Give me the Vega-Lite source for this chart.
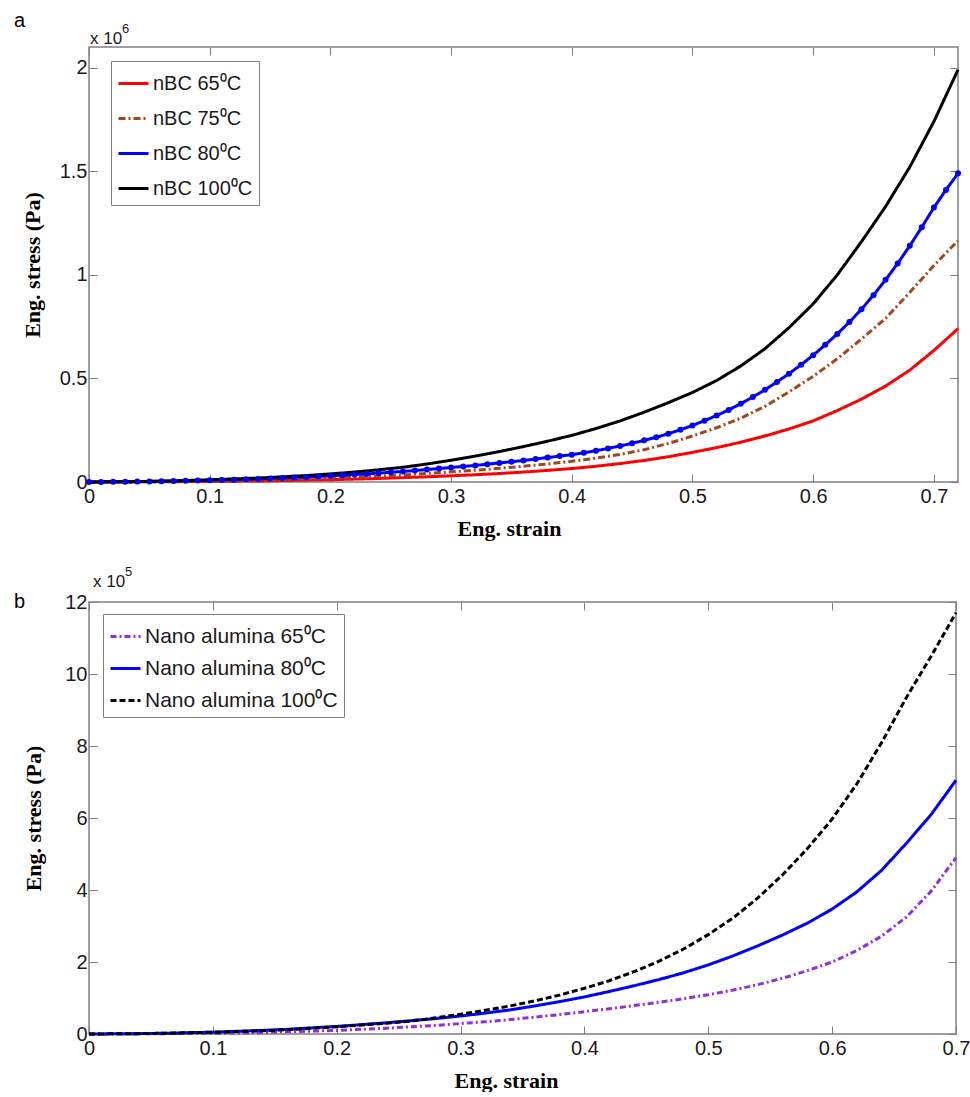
{
"$schema": "https://vega.github.io/schema/vega-lite/v6.json",
"background": "white",
"padding": {"left": 13, "top": 10, "right": 5, "bottom": 0},
"bounds": "flush",
"spacing": 120,
"resolve": {"scale": {"x": "independent", "y": "independent", "color": "independent", "strokeDash": "independent"}, "legend": {"color": "independent", "strokeDash": "independent"}},
"config": {
  "view": {"stroke": "#808080", "strokeWidth": 1.5},
  "font": "Liberation Sans",
  "axis": {"grid": false, "domain": false, "minExtent": 0, "tickColor": "#808080", "tickSize": -8, "tickWidth": 1, "labelFont": "Liberation Sans", "labelFontSize": 20, "labelColor": "#1a1a1a", "labelOverlap": false, "labelBound": false, "labelFlush": false, "titleFont": "Liberation Serif", "titleFontSize": 22, "titleFontWeight": "bold", "titleColor": "#000000"},
  "legend": {"labelFont": "Liberation Sans", "labelColor": "#1a1a1a", "labelLimit": 400, "strokeColor": "#808080", "fillColor": "white", "symbolType": "stroke", "symbolSize": 900, "symbolStrokeWidth": 3, "labelOffset": 3, "padding": 6, "rowPadding": 8}
},
"datasets": {
"a": [
{"series":"nBC 65⁰C","strain":0,"stress":0},{"series":"nBC 65⁰C","strain":0.02,"stress":0.0003},{"series":"nBC 65⁰C","strain":0.04,"stress":0.0006},{"series":"nBC 65⁰C","strain":0.06,"stress":0.001},{"series":"nBC 65⁰C","strain":0.08,"stress":0.002},{"series":"nBC 65⁰C","strain":0.1,"stress":0.003},{"series":"nBC 65⁰C","strain":0.12,"stress":0.004},{"series":"nBC 65⁰C","strain":0.14,"stress":0.005},{"series":"nBC 65⁰C","strain":0.16,"stress":0.007},{"series":"nBC 65⁰C","strain":0.18,"stress":0.009},{"series":"nBC 65⁰C","strain":0.2,"stress":0.011},{"series":"nBC 65⁰C","strain":0.22,"stress":0.014},{"series":"nBC 65⁰C","strain":0.24,"stress":0.017},{"series":"nBC 65⁰C","strain":0.26,"stress":0.021},{"series":"nBC 65⁰C","strain":0.28,"stress":0.025},{"series":"nBC 65⁰C","strain":0.3,"stress":0.03},{"series":"nBC 65⁰C","strain":0.32,"stress":0.035},{"series":"nBC 65⁰C","strain":0.34,"stress":0.041},{"series":"nBC 65⁰C","strain":0.36,"stress":0.048},{"series":"nBC 65⁰C","strain":0.38,"stress":0.056},{"series":"nBC 65⁰C","strain":0.4,"stress":0.065},{"series":"nBC 65⁰C","strain":0.42,"stress":0.076},{"series":"nBC 65⁰C","strain":0.44,"stress":0.089},{"series":"nBC 65⁰C","strain":0.46,"stress":0.104},{"series":"nBC 65⁰C","strain":0.48,"stress":0.122},{"series":"nBC 65⁰C","strain":0.5,"stress":0.143},{"series":"nBC 65⁰C","strain":0.52,"stress":0.166},{"series":"nBC 65⁰C","strain":0.54,"stress":0.192},{"series":"nBC 65⁰C","strain":0.56,"stress":0.222},{"series":"nBC 65⁰C","strain":0.58,"stress":0.256},{"series":"nBC 65⁰C","strain":0.6,"stress":0.295},{"series":"nBC 65⁰C","strain":0.62,"stress":0.345},{"series":"nBC 65⁰C","strain":0.64,"stress":0.4},{"series":"nBC 65⁰C","strain":0.66,"stress":0.463},{"series":"nBC 65⁰C","strain":0.68,"stress":0.54},{"series":"nBC 65⁰C","strain":0.7,"stress":0.635},{"series":"nBC 65⁰C","strain":0.72,"stress":0.74},
{"series":"nBC 75⁰C","strain":0,"stress":0},{"series":"nBC 75⁰C","strain":0.02,"stress":0.0005},{"series":"nBC 75⁰C","strain":0.04,"stress":0.001},{"series":"nBC 75⁰C","strain":0.06,"stress":0.002},{"series":"nBC 75⁰C","strain":0.08,"stress":0.003},{"series":"nBC 75⁰C","strain":0.1,"stress":0.005},{"series":"nBC 75⁰C","strain":0.12,"stress":0.007},{"series":"nBC 75⁰C","strain":0.14,"stress":0.009},{"series":"nBC 75⁰C","strain":0.16,"stress":0.012},{"series":"nBC 75⁰C","strain":0.18,"stress":0.015},{"series":"nBC 75⁰C","strain":0.2,"stress":0.019},{"series":"nBC 75⁰C","strain":0.22,"stress":0.023},{"series":"nBC 75⁰C","strain":0.24,"stress":0.028},{"series":"nBC 75⁰C","strain":0.26,"stress":0.034},{"series":"nBC 75⁰C","strain":0.28,"stress":0.041},{"series":"nBC 75⁰C","strain":0.3,"stress":0.049},{"series":"nBC 75⁰C","strain":0.32,"stress":0.057},{"series":"nBC 75⁰C","strain":0.34,"stress":0.066},{"series":"nBC 75⁰C","strain":0.36,"stress":0.076},{"series":"nBC 75⁰C","strain":0.38,"stress":0.087},{"series":"nBC 75⁰C","strain":0.4,"stress":0.1},{"series":"nBC 75⁰C","strain":0.42,"stress":0.115},{"series":"nBC 75⁰C","strain":0.44,"stress":0.133},{"series":"nBC 75⁰C","strain":0.46,"stress":0.156},{"series":"nBC 75⁰C","strain":0.48,"stress":0.186},{"series":"nBC 75⁰C","strain":0.5,"stress":0.222},{"series":"nBC 75⁰C","strain":0.52,"stress":0.262},{"series":"nBC 75⁰C","strain":0.54,"stress":0.308},{"series":"nBC 75⁰C","strain":0.56,"stress":0.365},{"series":"nBC 75⁰C","strain":0.58,"stress":0.435},{"series":"nBC 75⁰C","strain":0.6,"stress":0.51},{"series":"nBC 75⁰C","strain":0.62,"stress":0.595},{"series":"nBC 75⁰C","strain":0.64,"stress":0.69},{"series":"nBC 75⁰C","strain":0.66,"stress":0.79},{"series":"nBC 75⁰C","strain":0.68,"stress":0.915},{"series":"nBC 75⁰C","strain":0.7,"stress":1.045},{"series":"nBC 75⁰C","strain":0.72,"stress":1.165},
{"series":"nBC 80⁰C","strain":0,"stress":0},{"series":"nBC 80⁰C","strain":0.01,"stress":0.0005},{"series":"nBC 80⁰C","strain":0.02,"stress":0.001},{"series":"nBC 80⁰C","strain":0.03,"stress":0.0015},{"series":"nBC 80⁰C","strain":0.04,"stress":0.002},{"series":"nBC 80⁰C","strain":0.05,"stress":0.003},{"series":"nBC 80⁰C","strain":0.06,"stress":0.004},{"series":"nBC 80⁰C","strain":0.07,"stress":0.005},{"series":"nBC 80⁰C","strain":0.08,"stress":0.006},{"series":"nBC 80⁰C","strain":0.09,"stress":0.007},{"series":"nBC 80⁰C","strain":0.1,"stress":0.008},{"series":"nBC 80⁰C","strain":0.11,"stress":0.01},{"series":"nBC 80⁰C","strain":0.12,"stress":0.011},{"series":"nBC 80⁰C","strain":0.13,"stress":0.013},{"series":"nBC 80⁰C","strain":0.14,"stress":0.015},{"series":"nBC 80⁰C","strain":0.15,"stress":0.017},{"series":"nBC 80⁰C","strain":0.16,"stress":0.019},{"series":"nBC 80⁰C","strain":0.17,"stress":0.022},{"series":"nBC 80⁰C","strain":0.18,"stress":0.024},{"series":"nBC 80⁰C","strain":0.19,"stress":0.027},{"series":"nBC 80⁰C","strain":0.2,"stress":0.03},{"series":"nBC 80⁰C","strain":0.21,"stress":0.033},{"series":"nBC 80⁰C","strain":0.22,"stress":0.036},{"series":"nBC 80⁰C","strain":0.23,"stress":0.039},{"series":"nBC 80⁰C","strain":0.24,"stress":0.043},{"series":"nBC 80⁰C","strain":0.25,"stress":0.047},{"series":"nBC 80⁰C","strain":0.26,"stress":0.051},{"series":"nBC 80⁰C","strain":0.27,"stress":0.055},{"series":"nBC 80⁰C","strain":0.28,"stress":0.06},{"series":"nBC 80⁰C","strain":0.29,"stress":0.065},{"series":"nBC 80⁰C","strain":0.3,"stress":0.07},{"series":"nBC 80⁰C","strain":0.31,"stress":0.075},{"series":"nBC 80⁰C","strain":0.32,"stress":0.08},{"series":"nBC 80⁰C","strain":0.33,"stress":0.086},{"series":"nBC 80⁰C","strain":0.34,"stress":0.092},{"series":"nBC 80⁰C","strain":0.35,"stress":0.098},{"series":"nBC 80⁰C","strain":0.36,"stress":0.104},{"series":"nBC 80⁰C","strain":0.37,"stress":0.111},{"series":"nBC 80⁰C","strain":0.38,"stress":0.118},{"series":"nBC 80⁰C","strain":0.39,"stress":0.125},{"series":"nBC 80⁰C","strain":0.4,"stress":0.132},{"series":"nBC 80⁰C","strain":0.41,"stress":0.141},{"series":"nBC 80⁰C","strain":0.42,"stress":0.151},{"series":"nBC 80⁰C","strain":0.43,"stress":0.162},{"series":"nBC 80⁰C","strain":0.44,"stress":0.174},{"series":"nBC 80⁰C","strain":0.45,"stress":0.187},{"series":"nBC 80⁰C","strain":0.46,"stress":0.201},{"series":"nBC 80⁰C","strain":0.47,"stress":0.216},{"series":"nBC 80⁰C","strain":0.48,"stress":0.233},{"series":"nBC 80⁰C","strain":0.49,"stress":0.252},{"series":"nBC 80⁰C","strain":0.5,"stress":0.273},{"series":"nBC 80⁰C","strain":0.51,"stress":0.296},{"series":"nBC 80⁰C","strain":0.52,"stress":0.321},{"series":"nBC 80⁰C","strain":0.53,"stress":0.348},{"series":"nBC 80⁰C","strain":0.54,"stress":0.378},{"series":"nBC 80⁰C","strain":0.55,"stress":0.41},{"series":"nBC 80⁰C","strain":0.56,"stress":0.445},{"series":"nBC 80⁰C","strain":0.57,"stress":0.483},{"series":"nBC 80⁰C","strain":0.58,"stress":0.523},{"series":"nBC 80⁰C","strain":0.59,"stress":0.566},{"series":"nBC 80⁰C","strain":0.6,"stress":0.612},{"series":"nBC 80⁰C","strain":0.61,"stress":0.662},{"series":"nBC 80⁰C","strain":0.62,"stress":0.715},{"series":"nBC 80⁰C","strain":0.63,"stress":0.772},{"series":"nBC 80⁰C","strain":0.64,"stress":0.834},{"series":"nBC 80⁰C","strain":0.65,"stress":0.902},{"series":"nBC 80⁰C","strain":0.66,"stress":0.976},{"series":"nBC 80⁰C","strain":0.67,"stress":1.055},{"series":"nBC 80⁰C","strain":0.68,"stress":1.14},{"series":"nBC 80⁰C","strain":0.69,"stress":1.23},{"series":"nBC 80⁰C","strain":0.7,"stress":1.325},{"series":"nBC 80⁰C","strain":0.71,"stress":1.41},{"series":"nBC 80⁰C","strain":0.72,"stress":1.49},
{"series":"nBC 100⁰C","strain":0,"stress":0},{"series":"nBC 100⁰C","strain":0.02,"stress":0.001},{"series":"nBC 100⁰C","strain":0.04,"stress":0.002},{"series":"nBC 100⁰C","strain":0.06,"stress":0.004},{"series":"nBC 100⁰C","strain":0.08,"stress":0.007},{"series":"nBC 100⁰C","strain":0.1,"stress":0.011},{"series":"nBC 100⁰C","strain":0.12,"stress":0.015},{"series":"nBC 100⁰C","strain":0.14,"stress":0.019},{"series":"nBC 100⁰C","strain":0.16,"stress":0.025},{"series":"nBC 100⁰C","strain":0.18,"stress":0.031},{"series":"nBC 100⁰C","strain":0.2,"stress":0.039},{"series":"nBC 100⁰C","strain":0.22,"stress":0.048},{"series":"nBC 100⁰C","strain":0.24,"stress":0.059},{"series":"nBC 100⁰C","strain":0.26,"stress":0.071},{"series":"nBC 100⁰C","strain":0.28,"stress":0.087},{"series":"nBC 100⁰C","strain":0.3,"stress":0.105},{"series":"nBC 100⁰C","strain":0.32,"stress":0.125},{"series":"nBC 100⁰C","strain":0.34,"stress":0.147},{"series":"nBC 100⁰C","strain":0.36,"stress":0.171},{"series":"nBC 100⁰C","strain":0.38,"stress":0.197},{"series":"nBC 100⁰C","strain":0.4,"stress":0.225},{"series":"nBC 100⁰C","strain":0.42,"stress":0.258},{"series":"nBC 100⁰C","strain":0.44,"stress":0.295},{"series":"nBC 100⁰C","strain":0.46,"stress":0.337},{"series":"nBC 100⁰C","strain":0.48,"stress":0.383},{"series":"nBC 100⁰C","strain":0.5,"stress":0.432},{"series":"nBC 100⁰C","strain":0.52,"stress":0.49},{"series":"nBC 100⁰C","strain":0.54,"stress":0.56},{"series":"nBC 100⁰C","strain":0.56,"stress":0.643},{"series":"nBC 100⁰C","strain":0.58,"stress":0.745},{"series":"nBC 100⁰C","strain":0.6,"stress":0.86},{"series":"nBC 100⁰C","strain":0.62,"stress":1.0},{"series":"nBC 100⁰C","strain":0.64,"stress":1.16},{"series":"nBC 100⁰C","strain":0.66,"stress":1.33},{"series":"nBC 100⁰C","strain":0.68,"stress":1.52},{"series":"nBC 100⁰C","strain":0.7,"stress":1.74},{"series":"nBC 100⁰C","strain":0.72,"stress":1.99}
],
"b": [
{"series":"Nano alumina 65⁰C","strain":0,"stress":0},{"series":"Nano alumina 65⁰C","strain":0.02,"stress":0.002},{"series":"Nano alumina 65⁰C","strain":0.04,"stress":0.005},{"series":"Nano alumina 65⁰C","strain":0.06,"stress":0.01},{"series":"Nano alumina 65⁰C","strain":0.08,"stress":0.015},{"series":"Nano alumina 65⁰C","strain":0.1,"stress":0.02},{"series":"Nano alumina 65⁰C","strain":0.12,"stress":0.03},{"series":"Nano alumina 65⁰C","strain":0.14,"stress":0.04},{"series":"Nano alumina 65⁰C","strain":0.16,"stress":0.06},{"series":"Nano alumina 65⁰C","strain":0.18,"stress":0.08},{"series":"Nano alumina 65⁰C","strain":0.2,"stress":0.1},{"series":"Nano alumina 65⁰C","strain":0.22,"stress":0.13},{"series":"Nano alumina 65⁰C","strain":0.24,"stress":0.16},{"series":"Nano alumina 65⁰C","strain":0.26,"stress":0.2},{"series":"Nano alumina 65⁰C","strain":0.28,"stress":0.24},{"series":"Nano alumina 65⁰C","strain":0.3,"stress":0.29},{"series":"Nano alumina 65⁰C","strain":0.32,"stress":0.34},{"series":"Nano alumina 65⁰C","strain":0.34,"stress":0.4},{"series":"Nano alumina 65⁰C","strain":0.36,"stress":0.47},{"series":"Nano alumina 65⁰C","strain":0.38,"stress":0.54},{"series":"Nano alumina 65⁰C","strain":0.4,"stress":0.62},{"series":"Nano alumina 65⁰C","strain":0.42,"stress":0.7},{"series":"Nano alumina 65⁰C","strain":0.44,"stress":0.79},{"series":"Nano alumina 65⁰C","strain":0.46,"stress":0.88},{"series":"Nano alumina 65⁰C","strain":0.48,"stress":0.98},{"series":"Nano alumina 65⁰C","strain":0.5,"stress":1.09},{"series":"Nano alumina 65⁰C","strain":0.52,"stress":1.22},{"series":"Nano alumina 65⁰C","strain":0.54,"stress":1.37},{"series":"Nano alumina 65⁰C","strain":0.56,"stress":1.55},{"series":"Nano alumina 65⁰C","strain":0.58,"stress":1.76},{"series":"Nano alumina 65⁰C","strain":0.6,"stress":2.0},{"series":"Nano alumina 65⁰C","strain":0.62,"stress":2.32},{"series":"Nano alumina 65⁰C","strain":0.64,"stress":2.72},{"series":"Nano alumina 65⁰C","strain":0.66,"stress":3.25},{"series":"Nano alumina 65⁰C","strain":0.68,"stress":3.97},{"series":"Nano alumina 65⁰C","strain":0.7,"stress":4.9},
{"series":"Nano alumina 80⁰C","strain":0,"stress":0},{"series":"Nano alumina 80⁰C","strain":0.02,"stress":0.005},{"series":"Nano alumina 80⁰C","strain":0.04,"stress":0.01},{"series":"Nano alumina 80⁰C","strain":0.06,"stress":0.02},{"series":"Nano alumina 80⁰C","strain":0.08,"stress":0.035},{"series":"Nano alumina 80⁰C","strain":0.1,"stress":0.05},{"series":"Nano alumina 80⁰C","strain":0.12,"stress":0.075},{"series":"Nano alumina 80⁰C","strain":0.14,"stress":0.1},{"series":"Nano alumina 80⁰C","strain":0.16,"stress":0.13},{"series":"Nano alumina 80⁰C","strain":0.18,"stress":0.17},{"series":"Nano alumina 80⁰C","strain":0.2,"stress":0.21},{"series":"Nano alumina 80⁰C","strain":0.22,"stress":0.26},{"series":"Nano alumina 80⁰C","strain":0.24,"stress":0.31},{"series":"Nano alumina 80⁰C","strain":0.26,"stress":0.37},{"series":"Nano alumina 80⁰C","strain":0.28,"stress":0.43},{"series":"Nano alumina 80⁰C","strain":0.3,"stress":0.5},{"series":"Nano alumina 80⁰C","strain":0.32,"stress":0.58},{"series":"Nano alumina 80⁰C","strain":0.34,"stress":0.67},{"series":"Nano alumina 80⁰C","strain":0.36,"stress":0.78},{"series":"Nano alumina 80⁰C","strain":0.38,"stress":0.9},{"series":"Nano alumina 80⁰C","strain":0.4,"stress":1.03},{"series":"Nano alumina 80⁰C","strain":0.42,"stress":1.18},{"series":"Nano alumina 80⁰C","strain":0.44,"stress":1.34},{"series":"Nano alumina 80⁰C","strain":0.46,"stress":1.51},{"series":"Nano alumina 80⁰C","strain":0.48,"stress":1.7},{"series":"Nano alumina 80⁰C","strain":0.5,"stress":1.92},{"series":"Nano alumina 80⁰C","strain":0.52,"stress":2.17},{"series":"Nano alumina 80⁰C","strain":0.54,"stress":2.45},{"series":"Nano alumina 80⁰C","strain":0.56,"stress":2.75},{"series":"Nano alumina 80⁰C","strain":0.58,"stress":3.08},{"series":"Nano alumina 80⁰C","strain":0.6,"stress":3.47},{"series":"Nano alumina 80⁰C","strain":0.62,"stress":3.95},{"series":"Nano alumina 80⁰C","strain":0.64,"stress":4.55},{"series":"Nano alumina 80⁰C","strain":0.66,"stress":5.3},{"series":"Nano alumina 80⁰C","strain":0.68,"stress":6.1},{"series":"Nano alumina 80⁰C","strain":0.7,"stress":7.05},
{"series":"Nano alumina 100⁰C","strain":0,"stress":0},{"series":"Nano alumina 100⁰C","strain":0.02,"stress":0.005},{"series":"Nano alumina 100⁰C","strain":0.04,"stress":0.01},{"series":"Nano alumina 100⁰C","strain":0.06,"stress":0.02},{"series":"Nano alumina 100⁰C","strain":0.08,"stress":0.035},{"series":"Nano alumina 100⁰C","strain":0.1,"stress":0.05},{"series":"Nano alumina 100⁰C","strain":0.12,"stress":0.07},{"series":"Nano alumina 100⁰C","strain":0.14,"stress":0.09},{"series":"Nano alumina 100⁰C","strain":0.16,"stress":0.12},{"series":"Nano alumina 100⁰C","strain":0.18,"stress":0.16},{"series":"Nano alumina 100⁰C","strain":0.2,"stress":0.2},{"series":"Nano alumina 100⁰C","strain":0.22,"stress":0.25},{"series":"Nano alumina 100⁰C","strain":0.24,"stress":0.3},{"series":"Nano alumina 100⁰C","strain":0.26,"stress":0.36},{"series":"Nano alumina 100⁰C","strain":0.28,"stress":0.45},{"series":"Nano alumina 100⁰C","strain":0.3,"stress":0.55},{"series":"Nano alumina 100⁰C","strain":0.32,"stress":0.66},{"series":"Nano alumina 100⁰C","strain":0.34,"stress":0.78},{"series":"Nano alumina 100⁰C","strain":0.36,"stress":0.92},{"series":"Nano alumina 100⁰C","strain":0.38,"stress":1.08},{"series":"Nano alumina 100⁰C","strain":0.4,"stress":1.27},{"series":"Nano alumina 100⁰C","strain":0.42,"stress":1.48},{"series":"Nano alumina 100⁰C","strain":0.44,"stress":1.73},{"series":"Nano alumina 100⁰C","strain":0.46,"stress":2.02},{"series":"Nano alumina 100⁰C","strain":0.48,"stress":2.36},{"series":"Nano alumina 100⁰C","strain":0.5,"stress":2.76},{"series":"Nano alumina 100⁰C","strain":0.52,"stress":3.22},{"series":"Nano alumina 100⁰C","strain":0.54,"stress":3.78},{"series":"Nano alumina 100⁰C","strain":0.56,"stress":4.42},{"series":"Nano alumina 100⁰C","strain":0.58,"stress":5.15},{"series":"Nano alumina 100⁰C","strain":0.6,"stress":5.97},{"series":"Nano alumina 100⁰C","strain":0.62,"stress":6.95},{"series":"Nano alumina 100⁰C","strain":0.64,"stress":8.1},{"series":"Nano alumina 100⁰C","strain":0.66,"stress":9.35},{"series":"Nano alumina 100⁰C","strain":0.68,"stress":10.5},{"series":"Nano alumina 100⁰C","strain":0.7,"stress":11.7}
],
"ta": [{"strain":0,"stress":2.1,"panel":"a","mult":"x 10","exp":"6"}],
"tb": [{"strain":0,"stress":12,"panel":"b","mult":"x 10","exp":"5"}]
},
"vconcat": [
{
  "width": 869, "height": 435,
  "resolve": {"axis": {"x": "independent", "y": "independent"}},
  "layer": [
    {
      "data": {"name": "a"},
      "mark": {"type": "line", "strokeWidth": 3},
      "encoding": {
        "x": {"field": "strain", "type": "quantitative", "scale": {"domain": [0, 0.72], "nice": false, "zero": false}, "axis": {"values": [0, 0.1, 0.2, 0.3, 0.4, 0.5, 0.6, 0.7], "format": "~g", "title": "Eng. strain", "labelPadding": 12, "titlePadding": 12, "titleX": 420}},
        "y": {"field": "stress", "type": "quantitative", "scale": {"domain": [0, 2.1], "nice": false, "zero": false}, "axis": {"values": [0, 0.5, 1, 1.5, 2], "format": "~g", "title": "Eng. stress (Pa)", "labelPadding": 10, "titlePadding": 15}},
        "color": {"field": "series", "type": "nominal", "scale": {"domain": ["nBC 65⁰C", "nBC 75⁰C", "nBC 80⁰C", "nBC 100⁰C"], "range": ["#ff0000", "#a5451c", "#0000ff", "#000000"]}, "legend": {"title": null, "orient": "none", "legendX": 22, "legendY": 14, "labelFontSize": 20}},
        "strokeDash": {"field": "series", "type": "nominal", "scale": {"domain": ["nBC 65⁰C", "nBC 75⁰C", "nBC 80⁰C", "nBC 100⁰C"], "range": [[1, 0], [7, 3, 2, 3], [1, 0], [1, 0]]}, "legend": {"title": null, "orient": "none", "legendX": 22, "legendY": 14, "labelFontSize": 20}}
      }
    },
    {
      "data": {"name": "a"},
      "transform": [{"filter": "datum.series === 'nBC 80⁰C'"}],
      "mark": {"type": "circle", "size": 36, "opacity": 1, "color": "#0000ff"},
      "encoding": {
        "x": {"field": "strain", "type": "quantitative", "scale": {"domain": [0, 0.72], "nice": false, "zero": false}, "axis": null},
        "y": {"field": "stress", "type": "quantitative", "scale": {"domain": [0, 2.1], "nice": false, "zero": false}, "axis": null}
      }
    },
    {
      "data": {"name": "ta"},
      "mark": {"type": "text", "align": "left", "baseline": "alphabetic", "dy": -3, "dx": 1, "fontSize": 17, "font": "Liberation Sans", "color": "#1a1a1a"},
      "encoding": {
        "x": {"field": "strain", "type": "quantitative", "scale": {"domain": [0, 0.72], "nice": false, "zero": false}, "axis": {"orient": "top", "labels": false, "title": null, "values": [0, 0.1, 0.2, 0.3, 0.4, 0.5, 0.6, 0.7]}},
        "y": {"field": "stress", "type": "quantitative", "scale": {"domain": [0, 2.1], "nice": false, "zero": false}, "axis": {"orient": "right", "labels": false, "title": null, "values": [0, 0.5, 1, 1.5, 2]}},
        "text": {"field": "mult"}
      }
    },
    {
      "data": {"name": "ta"},
      "mark": {"type": "text", "align": "left", "baseline": "alphabetic", "dy": -14, "dx": 33, "fontSize": 13, "font": "Liberation Sans", "color": "#1a1a1a"},
      "encoding": {
        "x": {"field": "strain", "type": "quantitative", "scale": {"domain": [0, 0.72], "nice": false, "zero": false}, "axis": null},
        "y": {"field": "stress", "type": "quantitative", "scale": {"domain": [0, 2.1], "nice": false, "zero": false}, "axis": null},
        "text": {"field": "exp"}
      }
    },
    {
      "data": {"name": "ta"},
      "mark": {"type": "text", "align": "left", "baseline": "alphabetic", "dy": -20, "dx": -75, "fontSize": 20, "font": "Liberation Sans", "color": "#000000"},
      "encoding": {
        "x": {"field": "strain", "type": "quantitative", "scale": {"domain": [0, 0.72], "nice": false, "zero": false}, "axis": null},
        "y": {"field": "stress", "type": "quantitative", "scale": {"domain": [0, 2.1], "nice": false, "zero": false}, "axis": null},
        "text": {"field": "panel"}
      }
    }
  ]
},
{
  "width": 867, "height": 432,
  "resolve": {"axis": {"x": "independent", "y": "independent"}},
  "layer": [
    {
      "data": {"name": "b"},
      "mark": {"type": "line", "strokeWidth": 3},
      "encoding": {
        "x": {"field": "strain", "type": "quantitative", "scale": {"domain": [0, 0.7], "nice": false, "zero": false}, "axis": {"values": [0, 0.1, 0.2, 0.3, 0.4, 0.5, 0.6, 0.7], "format": "~g", "title": "Eng. strain", "labelPadding": 12, "titlePadding": 12, "titleX": 417}},
        "y": {"field": "stress", "type": "quantitative", "scale": {"domain": [0, 12], "nice": false, "zero": false}, "axis": {"values": [0, 2, 4, 6, 8, 10, 12], "format": "~g", "title": "Eng. stress (Pa)", "labelPadding": 10, "titlePadding": 19}},
        "color": {"field": "series", "type": "nominal", "scale": {"domain": ["Nano alumina 65⁰C", "Nano alumina 80⁰C", "Nano alumina 100⁰C"], "range": ["#8f2fe0", "#0000ff", "#000000"]}, "legend": {"title": null, "orient": "none", "legendX": 14, "legendY": 12, "labelFontSize": 21, "rowPadding": 5}},
        "strokeDash": {"field": "series", "type": "nominal", "scale": {"domain": ["Nano alumina 65⁰C", "Nano alumina 80⁰C", "Nano alumina 100⁰C"], "range": [[6, 3, 2, 3], [1, 0], [6, 3]]}, "legend": {"title": null, "orient": "none", "legendX": 14, "legendY": 12, "labelFontSize": 21, "rowPadding": 5}}
      }
    },
    {
      "data": {"name": "tb"},
      "mark": {"type": "text", "align": "left", "baseline": "alphabetic", "dy": -15, "dx": 4, "fontSize": 17, "font": "Liberation Sans", "color": "#1a1a1a"},
      "encoding": {
        "x": {"field": "strain", "type": "quantitative", "scale": {"domain": [0, 0.7], "nice": false, "zero": false}, "axis": {"orient": "top", "labels": false, "title": null, "values": [0, 0.1, 0.2, 0.3, 0.4, 0.5, 0.6, 0.7]}},
        "y": {"field": "stress", "type": "quantitative", "scale": {"domain": [0, 12], "nice": false, "zero": false}, "axis": {"orient": "right", "labels": false, "title": null, "values": [0, 2, 4, 6, 8, 10, 12]}},
        "text": {"field": "mult"}
      }
    },
    {
      "data": {"name": "tb"},
      "mark": {"type": "text", "align": "left", "baseline": "alphabetic", "dy": -26, "dx": 36, "fontSize": 13, "font": "Liberation Sans", "color": "#1a1a1a"},
      "encoding": {
        "x": {"field": "strain", "type": "quantitative", "scale": {"domain": [0, 0.7], "nice": false, "zero": false}, "axis": null},
        "y": {"field": "stress", "type": "quantitative", "scale": {"domain": [0, 12], "nice": false, "zero": false}, "axis": null},
        "text": {"field": "exp"}
      }
    },
    {
      "data": {"name": "tb"},
      "mark": {"type": "text", "align": "left", "baseline": "alphabetic", "dy": 6, "dx": -75, "fontSize": 20, "font": "Liberation Sans", "color": "#000000"},
      "encoding": {
        "x": {"field": "strain", "type": "quantitative", "scale": {"domain": [0, 0.7], "nice": false, "zero": false}, "axis": null},
        "y": {"field": "stress", "type": "quantitative", "scale": {"domain": [0, 12], "nice": false, "zero": false}, "axis": null},
        "text": {"field": "panel"}
      }
    }
  ]
}
]
}
